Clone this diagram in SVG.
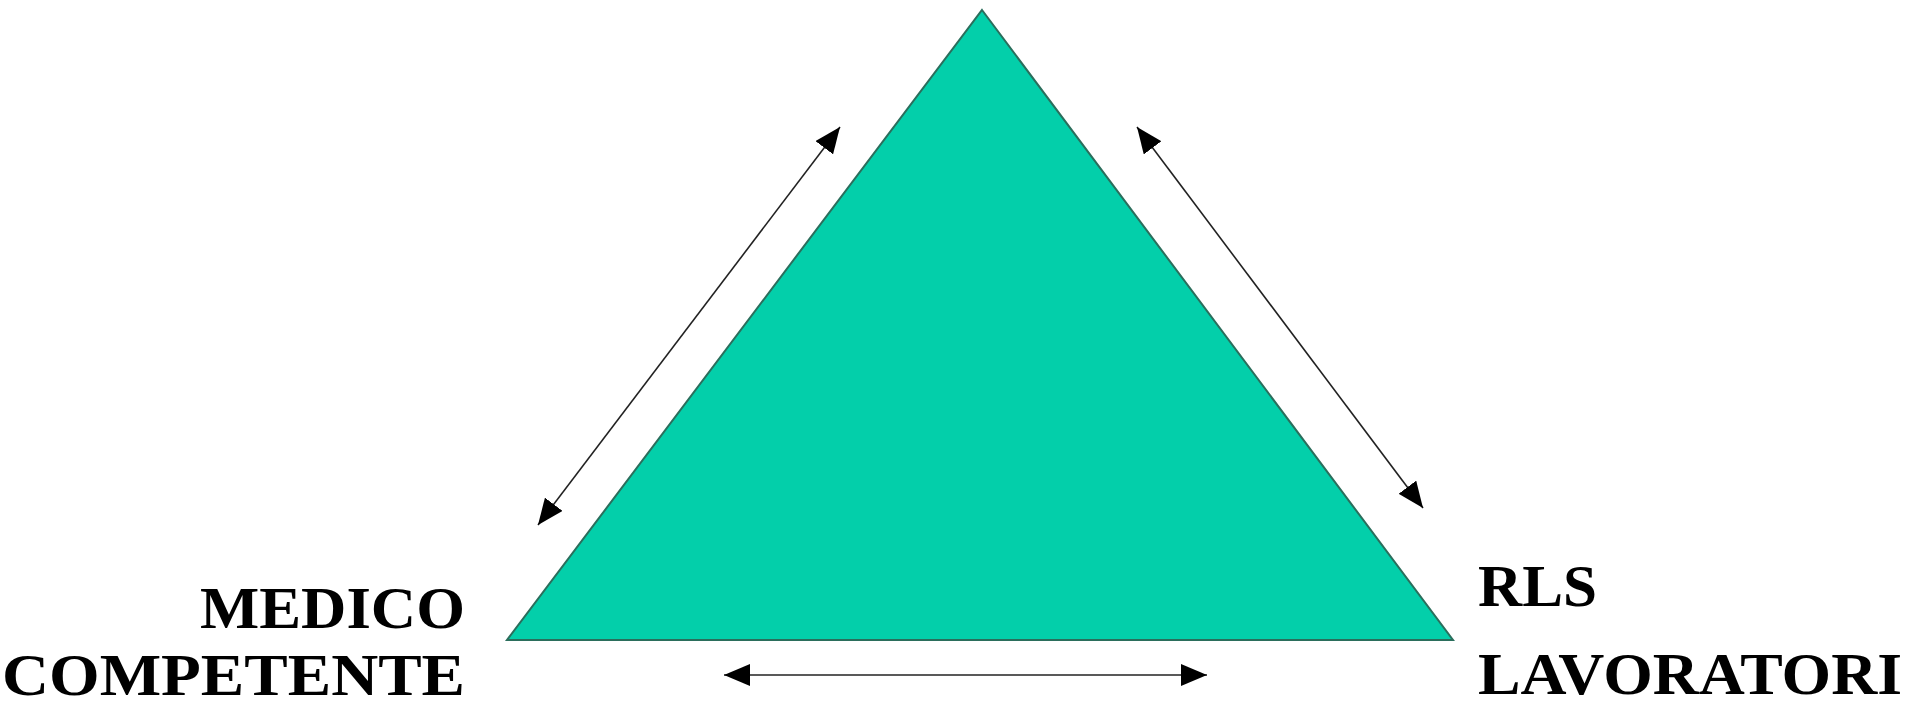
<svg xmlns="http://www.w3.org/2000/svg" width="1927" height="702" viewBox="0 0 1927 702">
<style>
.lbl{font-weight:bold;font-size:60px;fill:#000}
.conn{stroke:#222;stroke-width:1.6;fill:none;marker-start:url(#ah);marker-end:url(#ah)}
</style>
<defs>
<marker id="ah" viewBox="0 0 26 22" refX="26" refY="11" markerWidth="26" markerHeight="22" markerUnits="userSpaceOnUse" orient="auto-start-reverse">
<path d="M0,0 L26,11 L0,22 Z" fill="#000"/>
</marker>
</defs>
<rect width="1927" height="702" fill="#fff"/>
<g id="triangle">
<polygon points="982,10 1453,640 507,640" fill="#03cfaa" stroke="#2b6e5c" stroke-width="2" stroke-linejoin="miter"/>
</g>
<g id="medico" font-family="Liberation Serif, serif">
<text class="lbl" x="465" y="628" text-anchor="end" textLength="265" lengthAdjust="spacingAndGlyphs">MEDICO</text>
<text class="lbl" x="465" y="695" text-anchor="end" textLength="463" lengthAdjust="spacingAndGlyphs">COMPETENTE</text>
</g>
<g id="rls" font-family="Liberation Serif, serif">
<text class="lbl" x="1478" y="606" textLength="119" lengthAdjust="spacingAndGlyphs">RLS</text>
<text class="lbl" x="1478" y="694" textLength="424" lengthAdjust="spacingAndGlyphs">LAVORATORI</text>
</g>
<g id="connectors">
<line class="conn" x1="538" y1="525" x2="840" y2="127"/>
<line class="conn" x1="1137" y1="127" x2="1423" y2="508"/>
<line class="conn" x1="724" y1="675" x2="1207" y2="675"/>
</g>
</svg>
